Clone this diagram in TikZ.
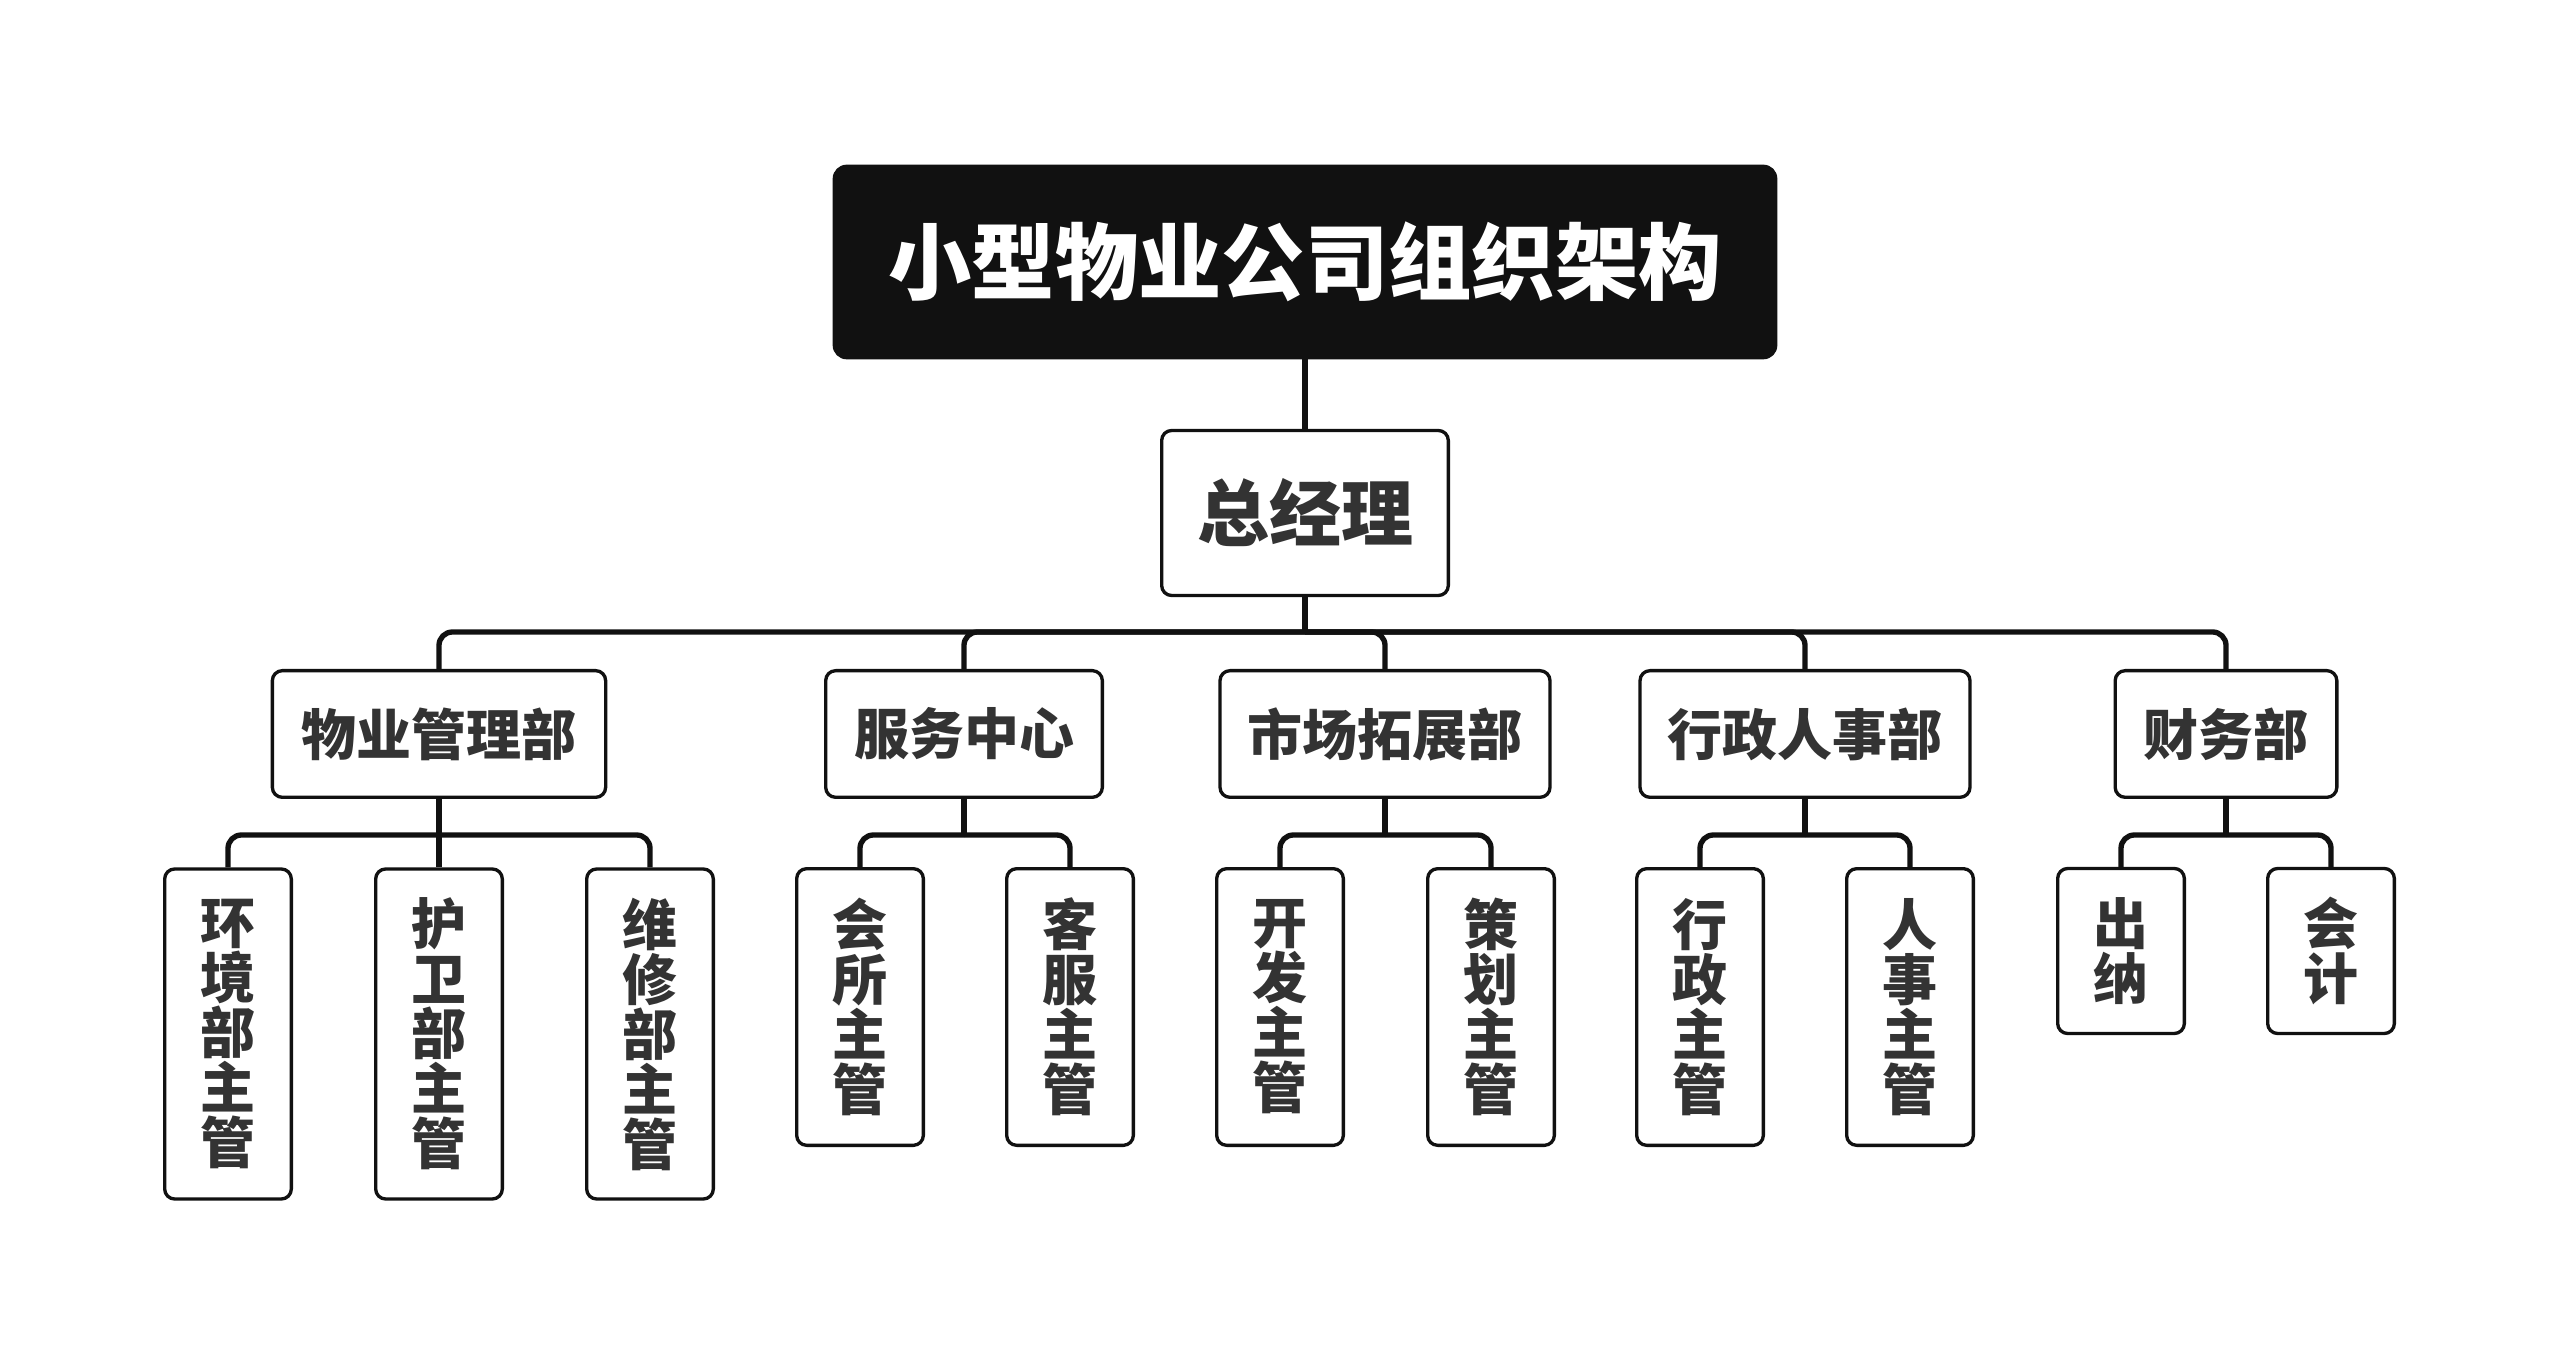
\documentclass[tikz,border=0pt]{standalone}
\usepackage{fontspec}
\newfontfamily\cjk{Noto Sans CJK SC}
\usetikzlibrary{positioning}
\definecolor{txt}{HTML}{333333}
\definecolor{ink}{HTML}{111111}
\tikzset{
  box/.style={draw=ink, line width=1pt, rounded corners=3pt, fill=white, text=txt,
    inner sep=0pt, align=center, font=\cjk\bfseries\fontsize{16.5}{16.5}\selectfont},
  dept/.style={box, minimum height=38pt},
  post/.style={box, minimum width=38pt},
  link/.style={draw=ink, line width=1.6pt, rounded corners=4pt},
}

\begin{document}
\begin{tikzpicture}[x=0.3pt,y=-0.3pt]
\useasboundingbox (0,0) rectangle (2560,1366);
% top
\node[draw=ink, fill=ink, rounded corners=4pt, minimum width=283pt, minimum height=58pt,
  text=white, font=\cjk\bfseries\fontsize{25}{25}\selectfont] (title) at (1305,262) {小型物业公司组织架构};
\node[box, minimum width=86pt, minimum height=49.5pt,
  font=\cjk\bfseries\fontsize{21.6}{21.6}\selectfont] (gm) at (1305,513) {总经理};

% departments
\node[dept, minimum width=100pt] (wy) at (439,734) {物业管理部};
\node[dept, minimum width=83pt] (fw) at (964,734) {服务中心};
\node[dept, minimum width=99pt] (sc) at (1385,734) {市场拓展部};
\node[dept, minimum width=99pt] (xz) at (1805,734) {行政人事部};
\node[dept, minimum width=66.5pt] (cw) at (2226,734) {财务部};

% posts
\node[post, minimum height=99pt] (hj) at (228,1034) {环\\境\\部\\主\\管};
\node[post, minimum height=99pt] (hw) at (439,1034) {护\\卫\\部\\主\\管};
\node[post, minimum height=99pt] (wx) at (650,1034) {维\\修\\部\\主\\管};
\node[post, minimum height=83pt] (hs) at (860,1007) {会\\所\\主\\管};
\node[post, minimum height=83pt] (kf) at (1070,1007) {客\\服\\主\\管};
\node[post, minimum height=83pt] (kfa) at (1280,1007) {开\\发\\主\\管};
\node[post, minimum height=83pt] (ch) at (1491,1007) {策\\划\\主\\管};
\node[post, minimum height=83pt] (xzz) at (1700,1007) {行\\政\\主\\管};
\node[post, minimum height=83pt] (rs) at (1910,1007) {人\\事\\主\\管};
\node[post, minimum height=49.5pt] (cn) at (2121,951) {出\\纳};
\node[post, minimum height=49.5pt] (kj) at (2331,951) {会\\计};

% connectors
\draw[link] (title) -- (gm);
\coordinate (bus) at (1305,632);
\draw[link] (gm) -- (bus);
\foreach \d in {wy,fw,sc,xz,cw}
  \draw[link] (bus) -| (\d.north);

\foreach \p/\kids in {wy/{hj,hw,wx}, fw/{hs,kf}, sc/{kfa,ch}, xz/{xzz,rs}, cw/{cn,kj}} {
  \coordinate (\p b) at ([yshift=-10.8pt]\p.south);
  \draw[link] (\p) -- (\p b);
  \foreach \k in \kids
    \draw[link] (\p b) -| (\k.north);
}
\end{tikzpicture}
\end{document}
